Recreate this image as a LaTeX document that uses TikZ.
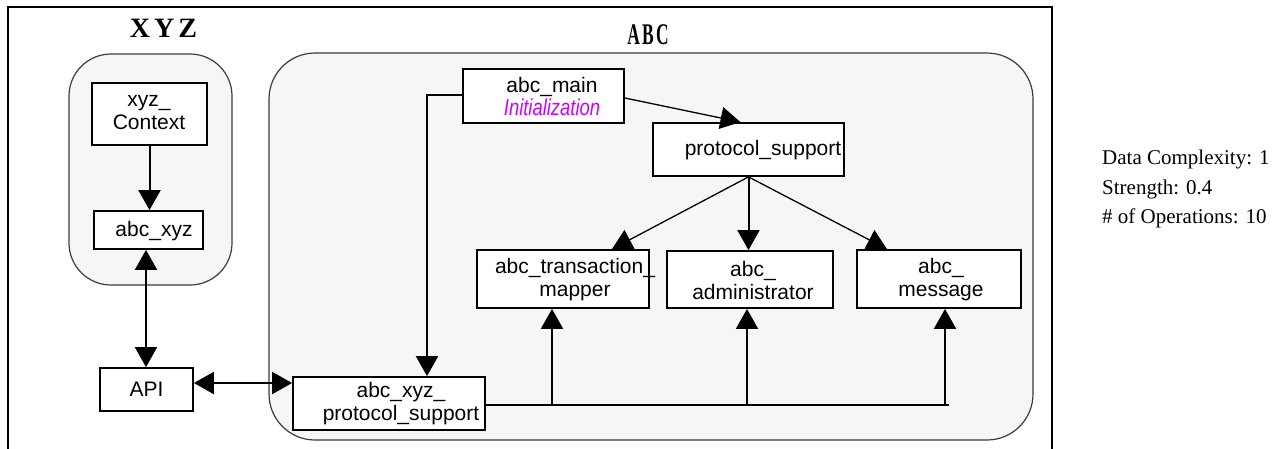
\documentclass[tikz,border=0pt]{standalone}
\usepackage{fontspec}
\usepackage{graphicx}
\setmainfont{Liberation Serif}
\newfontfamily\boxsf{Liberation Sans}
\usetikzlibrary{arrows.meta,calc}
\definecolor{contfill}{RGB}{246,246,246}
\definecolor{contline}{RGB}{60,60,60}
\definecolor{initcol}{RGB}{204,0,255}
\begin{document}
\begin{tikzpicture}[x=1pt,y=-1pt,
  bx/.style={draw, line width=1.8pt, fill=white, inner sep=0pt},
  txt/.style={font=\boxsf\fontsize{21}{23}\selectfont, align=center, inner sep=0pt},
  cont/.style={draw=contline, line width=1.2pt, fill=contfill},
  conn/.style={line width=2pt},
  thin/.style={line width=1.3pt},
  tip/.style={-{Triangle[length=20pt 0 0,width=22pt 0 0]}},
  dtip/.style={{Triangle[length=20pt 0 0,width=22pt 0 0]}-{Triangle[length=20pt 0 0,width=22pt 0 0]}},
  info/.style={font=\fontsize{21}{24}\selectfont, anchor=base west, inner sep=0pt},
  ttl/.style={font=\bfseries\fontsize{28}{30}\selectfont, inner sep=0pt}
]
\useasboundingbox (0,0) rectangle (1280,448);
\fill[white] (0,0) rectangle (1280,448);
% outer frame
\draw[line width=2pt] (8,7) rectangle (1052,460);
% containers
\draw[cont, rounded corners=42pt] (69,54) rectangle (232,285);
\draw[cont, rounded corners=46pt] (269,53) rectangle (1033,440);
% titles
\node[ttl] (xyzt) at (163.5,28) {X\hspace{4pt}Y\hspace{4pt}Z};
\node[ttl, font=\bfseries\fontsize{30}{32}\selectfont] (abct) at (648,34.5) {\scalebox{0.58}[1]{A\hspace{4pt}B\hspace{4pt}C}};
% boxes
\node[bx, minimum width=115pt, minimum height=62pt] (ctx) at (149.5,114) {};
\node[txt] (ctxt) at (149,113) {xyz\_\\Context};
\node[bx, minimum width=109pt, minimum height=38pt] (axyz) at (148.5,230) {};
\node[txt] (axyzt) at (154,231) {abc\_xyz};
\node[bx, minimum width=93pt, minimum height=43pt] (api) at (146.5,389.5) {};
\node[txt] (apit) at (146.5,389.5) {API};
\node[bx, minimum width=161pt, minimum height=54pt] (main) at (543.5,96) {};
\node[txt] (maint) at (552,96) {abc\_main\\\textcolor{initcol}{\itshape\fontsize{23}{23}\selectfont\scalebox{0.8}[1]{Initialization}}};
\node[bx, minimum width=191pt, minimum height=53pt] (ps) at (748.5,149.5) {};
\node[txt] (pst) at (763,150) {protocol\_support};
\node[bx, minimum width=172pt, minimum height=58pt] (tm) at (563,279) {};
\node[txt] (tmt) at (575,280) {abc\_transaction\_\\mapper};
\node[bx, minimum width=166pt, minimum height=57pt] (adm) at (750,279.5) {};
\node[txt] (admt) at (753,280) {abc\_\\administrator};
\node[bx, minimum width=164pt, minimum height=58pt] (msg) at (939,279) {};
\node[txt] (msgt) at (941,280) {abc\_\\message};
\node[bx, minimum width=192pt, minimum height=53pt] (sup) at (389,403.5) {};
\node[txt] (supt) at (401,404) {abc\_xyz\_\\protocol\_support};
% info text
\node[info] (i1) at (1102,164) {Data Complexity: 1};
\node[info] (i2) at (1102,194) {Strength: 0.4};
\node[info] (i3) at (1102,223) {\# of Operations: 10};
% connectors
\draw[conn,tip] (ctx.south) -- (ctx.south |- axyz.north);
\draw[conn,dtip] ([xshift=-2.5pt]axyz.south) -- ([xshift=-2.5pt]axyz.south |- api.north);
\draw[conn,dtip] ([yshift=6.5pt]api.east) -- ([yshift=6.5pt]api.east -| sup.west);
\draw[conn,tip] ([yshift=1pt]main.west) -| ([xshift=38pt]sup.north);
\draw[thin,tip] ([yshift=-2pt]main.east) -- ([xshift=-8pt]ps.north);
\draw[thin,tip] (ps.south) -- ([xshift=49pt]tm.north);
\draw[conn,tip] (ps.south) -- (ps.south |- adm.north);
\draw[thin,tip] (ps.south) -- ([xshift=-52pt]msg.north);
\coordinate (busend) at (949,405);
\draw[conn] (sup.east |- busend) -- (busend);
\draw[conn,tip] ([xshift=-11pt]tm.south |- busend) -- ([xshift=-11pt]tm.south);
\draw[conn,tip] ([xshift=-3pt]adm.south |- busend) -- ([xshift=-3pt]adm.south);
\draw[conn,tip] ([xshift=6pt]msg.south |- busend) -- ([xshift=6pt]msg.south);
\end{tikzpicture}
\end{document}
